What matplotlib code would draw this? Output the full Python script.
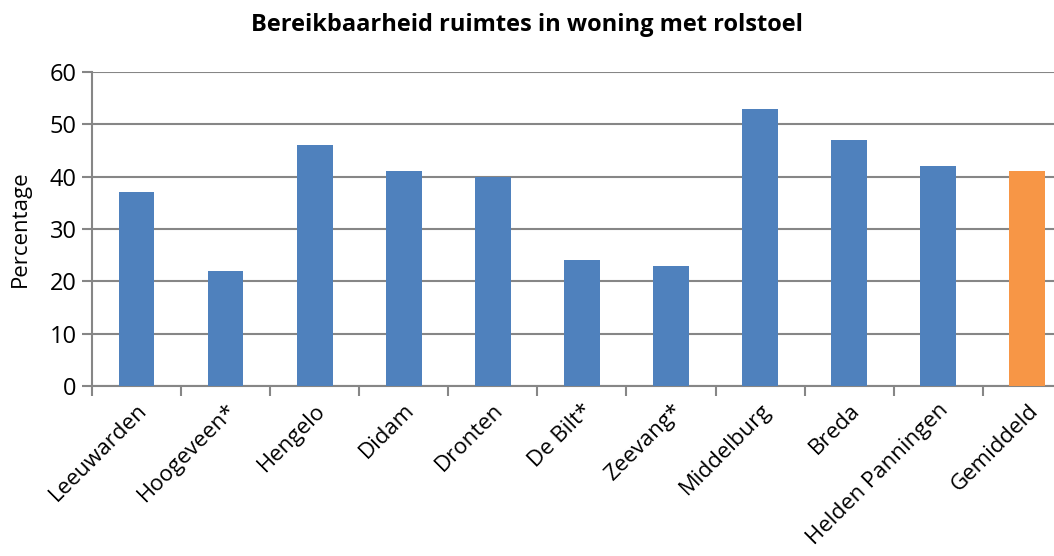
import matplotlib.pyplot as plt

plt.rcParams['font.family'] = ['Open Sans', 'DejaVu Sans']

steden = ['Leeuwarden', 'Hoogeveen*', 'Hengelo', 'Didam', 'Dronten', 'De Bilt*',
          'Zeevang*', 'Middelburg', 'Breda', 'Helden Panningen', 'Gemiddeld']
percentage = [37, 22, 46, 41, 40, 24, 23, 53, 47, 42, 41]
kleuren = ['#4F81BD'] * 10 + ['#F79646']

fig = plt.figure(figsize=(10.54, 5.56), dpi=100)
ax = fig.add_axes([92 / 1054, 1 - 386 / 556, 1 - 92 / 1054, 314 / 556])

x = range(len(steden))
ax.bar(x, percentage, width=0.4, color=kleuren, zorder=3)

ax.set_ylim(0, 60)
ax.set_yticks(range(0, 61, 10))
ax.set_xlim(-0.5, 10.3)
ax.set_xticks([i - 0.5 for i in range(11)], minor=False)
ax.set_xticklabels([])
ax.set_xticks(list(x), minor=True)
ax.set_xticklabels(steden, minor=True, rotation=45, ha='right', va='top',
                   rotation_mode='anchor', fontsize=16)
ax.tick_params(axis='x', which='minor', length=0, pad=10)
ax.tick_params(axis='x', which='major', length=7, width=1.5, color='#868686')
ax.tick_params(axis='y', length=7, width=1.5, color='#868686', labelsize=17, pad=4)

ax.grid(axis='y', color='#868686', linewidth=1.5, zorder=0)
for s in ['top', 'right']:
    ax.spines[s].set_visible(False)
for s in ['left', 'bottom']:
    ax.spines[s].set_color('#868686')
    ax.spines[s].set_linewidth(1.5)

ax.set_ylabel('Percentage', fontsize=16)
ax.yaxis.set_label_coords(-0.064, 0.5)
fig.text(0.5, 0.955, 'Bereikbaarheid ruimtes in woning met rolstoel',
         ha='center', va='center', fontsize=17, fontweight='bold')

fig.savefig('out.png', dpi=100)
